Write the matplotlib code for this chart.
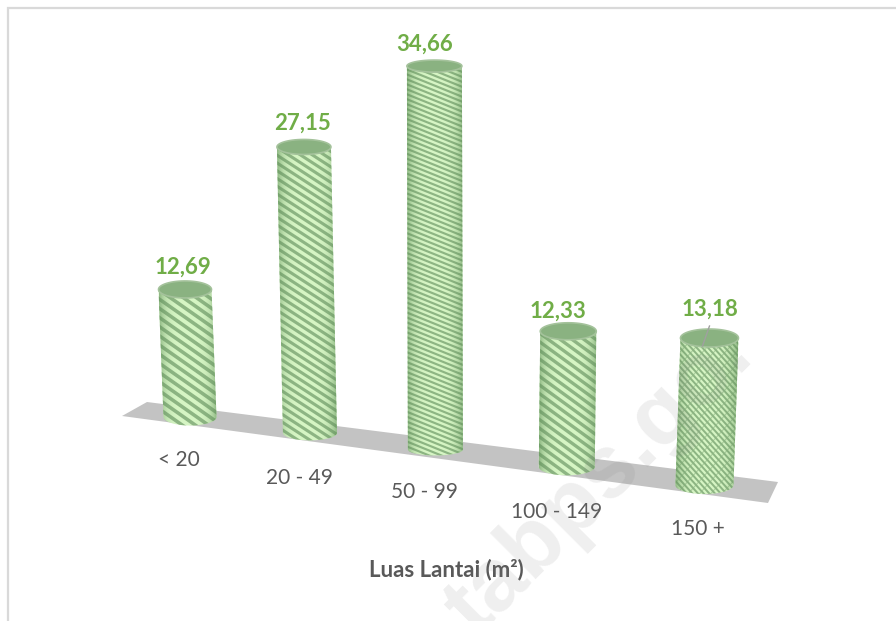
import matplotlib
matplotlib.use('Agg')
import matplotlib.pyplot as plt
import numpy as np
from matplotlib.collections import LineCollection
from matplotlib.patches import Polygon

categories = ['< 20', '20 - 49', '50 - 99', '100 - 149', '150 +']
values = [12.69, 27.15, 34.66, 12.33, 13.18]
axis_title = 'Luas Lantai (m\u00b2)'

# drawing layout, in pixels
px_per_unit = [10.05, 10.53, 11.06, 10.99, 11.15]
half_width = [26.5, 27, 27.5, 28, 29]
cap_ry = [8.5, 7.5, 6, 8.5, 9]
lean = [-5, -6, -1, 1.5, 5]
stripe_angle = [35, 33, 22, 36, 48]
stripe_gap = [7.5, 6.5, 4.6, 7, 4.2]
label_offset = [(-2, 22), (-1.5, 24), (-10, 22), (-10.5, 20), (0, 29)]
cat_offset = [(-11, 43), (-11, 45), (-11, 43), (-10, 45), (-7, 44)]

LIGHT = '#d6f5c4'
DARK = '#8db583'
GREEN = '#70ad47'
GREY = '#595959'


def project(i):
    # the floor recedes slightly, so nearer bars sit further apart
    w = 1 - 0.022 * i
    return 190 + 117.3 * i / w, 417 + 15.5 * i / w


plt.rcParams['font.family'] = ['Lato', 'DejaVu Sans']
fig = plt.figure(figsize=(8.96, 6.21), dpi=100)
ax = fig.add_axes([0, 0, 1, 1])

# frame, only top and left are visible
ax.plot([8, 8, 896], [621, 8, 8], color='#d9d9d9', lw=1.6, solid_joinstyle='miter', zorder=1)

# floor
ax.add_patch(Polygon([(147, 402), (778, 482), (768, 503), (122, 416)], fc='#c3c3c3', ec='none', zorder=1))

t = np.linspace(0, np.pi, 40)
for i, v in enumerate(values):
    bx, by = project(i)
    top_y = by - px_per_unit[i] * v
    tx = bx + lean[i]
    hw = half_width[i]
    ry = cap_ry[i]

    # cylinder outline: lower arc of the base, then lower arc of the cap
    lower = np.column_stack([bx - hw * np.cos(t), by + ry * np.sin(t)])
    upper = np.column_stack([tx + hw * np.cos(t), top_y + ry * np.sin(t)])
    body = Polygon(np.vstack([lower, upper]), fc=LIGHT, ec='none', zorder=2)
    ax.add_patch(body)

    # diagonal stripes
    a = np.radians(stripe_angle[i])
    gap = stripe_gap[i] / np.cos(a)
    span = 2 * hw + 20
    left = min(bx, tx) - hw - 10
    starts = np.arange(top_y - span * np.tan(a) - 20, by + ry + 20, gap)
    segs = [[(left, s), (left + span, s + span * np.tan(a))] for s in starts]
    lc = LineCollection(segs, colors=DARK, linewidths=stripe_gap[i] * 0.34, zorder=3)
    ax.add_collection(lc)
    lc.set_clip_path(body)
    if i == 4:
        # last bar has a tighter, cross-woven look
        segs2 = [[(left, s + span * np.tan(a)), (left + span, s)] for s in starts[::2]]
        lc2 = LineCollection(segs2, colors=DARK, linewidths=0.8, alpha=0.6, zorder=3)
        ax.add_collection(lc2)
        lc2.set_clip_path(body)

    # darker sides of the cylinder
    u = np.linspace(-1, 1, 80)
    shade = np.zeros((1, 80, 4))
    shade[..., :3] = matplotlib.colors.to_rgb('#5f9058')
    shade[..., 3] = 0.6 * np.abs(u) ** 4
    im = ax.imshow(shade, extent=(min(bx, tx) - hw, max(bx, tx) + hw, by + ry, top_y - ry),
                   aspect='auto', zorder=4)
    im.set_clip_path(body)

    # cap
    th = np.linspace(0, 2 * np.pi, 60)
    cap = np.column_stack([tx + hw * np.cos(th), top_y + ry * np.sin(th)])
    ax.add_patch(Polygon(cap, fc='#8ab281', ec='#a4c29b', lw=1.2, zorder=5))

    ax.text(tx + label_offset[i][0], top_y - label_offset[i][1], f'{v:.2f}'.replace('.', ','), color=GREEN,
            fontsize=16, fontweight='bold', ha='center', va='center', zorder=6)
    ax.text(bx + cat_offset[i][0], by + cat_offset[i][1], categories[i], color=GREY, fontsize=15,
            ha='center', va='center', zorder=6)

# leader line of the last label
bx, by = project(4)
top_y = by - px_per_unit[4] * values[4]
ax.plot([bx + lean[4], bx + lean[4] - 7], [top_y - 12, top_y + 8], color='#a0a0a0', lw=1, zorder=6)

ax.text(446, 570, axis_title, color=GREY, fontsize=16, fontweight='bold', ha='center', va='center', zorder=6)

# site watermark across the lower right
ax.text(600, 482, 'tabps.go.', color='#808080', alpha=0.13, fontsize=64, fontweight='bold',
        family='Liberation Sans', rotation=45, rotation_mode='anchor', ha='center', va='center', zorder=7)

ax.set_xlim(0, 896)
ax.set_ylim(621, 0)
ax.axis('off')
fig.savefig('out.png', dpi=100, facecolor='white')
